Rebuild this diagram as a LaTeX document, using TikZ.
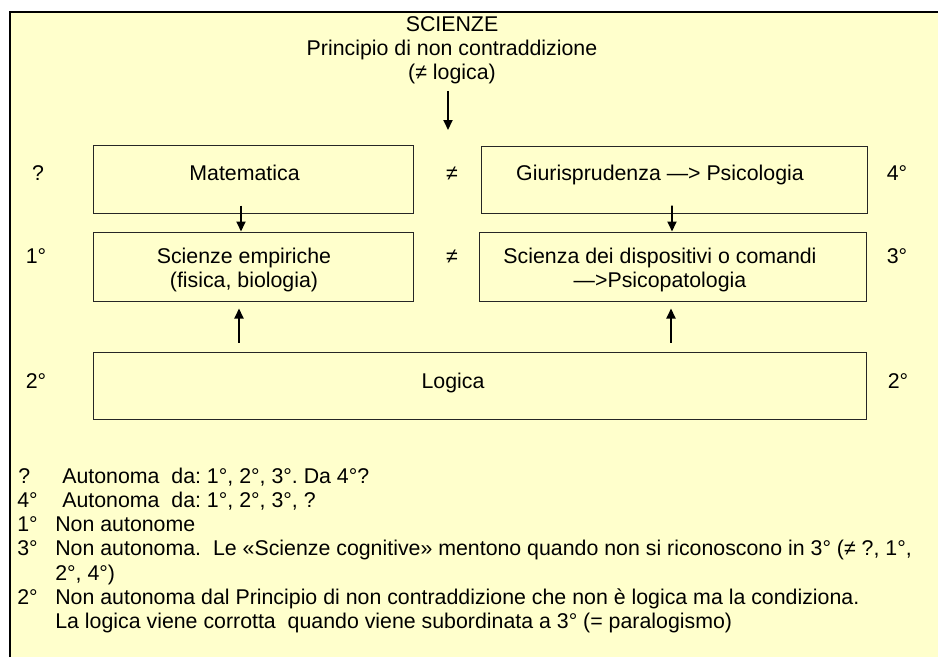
\documentclass[tikz,border=0pt]{standalone}
\usepackage{fontspec}
\setmainfont{Liberation Sans}
\usepackage{xcolor}
\usetikzlibrary{arrows.meta,calc}
\definecolor{paleyellow}{HTML}{FFFFCC}
\frenchspacing

\begin{document}
\begin{tikzpicture}[x=0.6pt,y=-0.6pt,
    font=\fontsize{12.8}{14.4}\selectfont,
    box/.style 2 args={draw=black!85, line width=0.6pt, inner sep=0pt,
        minimum width=#1*0.6pt, minimum height=#2*0.6pt},
    twoline/.style={align=center, inner sep=0pt},
    lbl/.style={anchor=base, inner sep=0pt},
    row/.style={anchor=base west, inner sep=0pt},
    arr/.style={line width=1.1pt, -{Triangle[length=6pt,width=5.4pt]}}]
    \useasboundingbox (0,0) rectangle (938,657);
    \fill[white] (0,0) rectangle (938,657);
    \fill[paleyellow] (10,12) rectangle (938,657);
    \draw[line width=1.2pt] (10,657) -- (10,12) -- (938,12);

    \node[twoline] (sci) at (452,50.6)
        {SCIENZE\\Principio di non contraddizione\\(≠ logica)};
    \coordinate (sciarr) at (448,91);
    \coordinate (sciend) at (448,130);
    \draw[arr] (sciarr) -- (sciend);

    % boxes
    \node[box={320}{68}] (mat) at (253,179) {};
    \node[box={386}{67}] (giur) at (674,179.5) {};
    \node[box={320}{69}] (emp) at (253,266.5) {};
    \node[box={387}{69}] (disp) at (672.5,266.5) {};
    \node[box={773}{67}] (log) at (479.5,385.5) {};

    \node[lbl] (matt) at (244.5,180) {Matematica};
    \node[lbl] (giurt) at (660,180) {Giurisprudenza —> Psicologia};
    \node[twoline] (empt) at (244,269.5) {Scienze empiriche\\(fisica, biologia)};
    \node[twoline] (dispt) at (660,269.5) {Scienza dei dispositivi o comandi\\—>Psicopatologia};
    \node[lbl] (logt) at (453,388) {Logica};

    % marks beside the boxes
    \node[lbl] (mq) at (38,180) {?};
    \node[lbl] (m4) at (897,180) {4°};
    \node[lbl] (m1) at (36,263) {1°};
    \node[lbl] (m3) at (897,263) {3°};
    \node[lbl] (m2a) at (36,388) {2°};
    \node[lbl] (m2b) at (898,388) {2°};
    \node[lbl] (ne1) at (452,180) {≠};
    \node[lbl] (ne2) at (452,263) {≠};

    \draw[arr] ([xshift=-7.2pt,yshift=4.8pt]mat.south) -- ([xshift=-7.2pt]emp.north);
    \draw[arr] ([xshift=-1.2pt,yshift=4.8pt]giur.south) -- ([xshift=-0.3pt]disp.north);
    \draw[arr] ($(log.north -| emp.south)+(-14,-9)$) -- ($(emp.south)+(-14,7)$);
    \draw[arr] ($(log.north -| disp.south)+(-1.5,-9)$) -- ($(disp.south)+(-1.5,7)$);

    % notes
    \node[row] (nq) at (18,483) {?};
    \node[row] (nqt) at (62,483) {Autonoma~ da: 1°, 2°, 3°. Da 4°?};
    \node[row] (n4) at (17,507) {4°};
    \node[row] (n4t) at (62,507) {Autonoma~ da: 1°, 2°, 3°, ?};
    \node[row] (n1) at (17,531) {1°};
    \node[row] (n1t) at (55,531) {Non autonome};
    \node[row] (n3) at (17,555.5) {3°};
    \node[row] (n3t) at (55,555.5) {Non autonoma.~ Le «Scienze cognitive» mentono quando non si riconoscono in 3° (≠ ?, 1°,};
    \node[row] (n3u) at (55,580) {2°, 4°)};
    \node[row] (n2) at (17,604) {2°};
    \node[row] (n2t) at (55,604) {Non autonoma dal Principio di non contraddizione che non è logica ma la condiziona.};
    \node[row] (n2u) at (55,628) {La logica viene corrotta~ quando viene subordinata a 3° (= paralogismo)};
\end{tikzpicture}
\end{document}
